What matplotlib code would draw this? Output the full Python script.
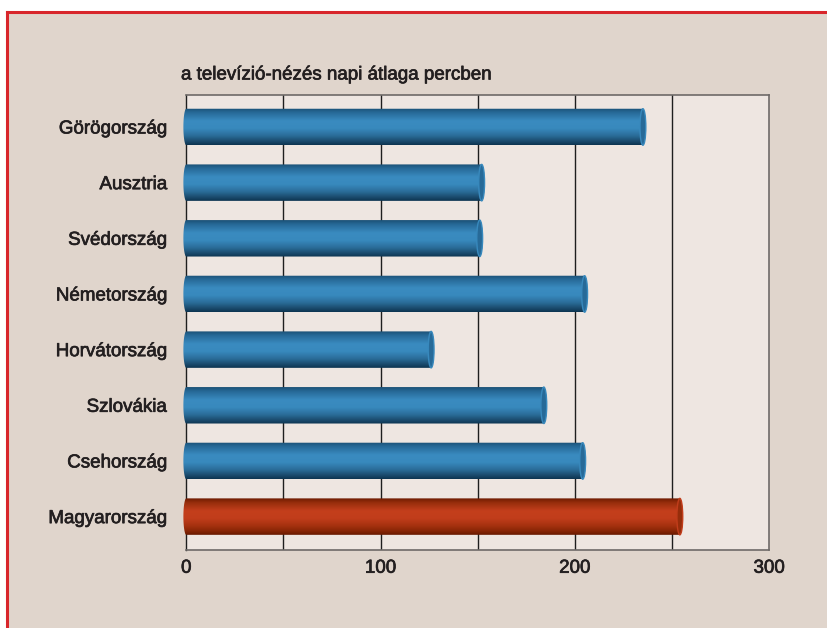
import numpy as np
import matplotlib
matplotlib.use("Agg")
import matplotlib.pyplot as plt
from matplotlib.path import Path
from matplotlib.patches import PathPatch, Ellipse, Rectangle
from matplotlib.colors import LinearSegmentedColormap, to_rgb
from matplotlib.lines import Line2D
import matplotlib.patheffects as pe

plt.rcParams['font.family'] = ['Liberation Sans', 'DejaVu Sans']

countries = ["Görögország", "Ausztria", "Svédország", "Németország",
             "Horvátország", "Szlovákia", "Csehország", "Magyarország"]
minutes = [235, 152, 151, 205, 126, 184, 204, 254]
highlight = "Magyarország"
x_ticks = [0, 100, 200, 300]
grid_x = [50, 100, 150, 200, 250]
title = "a televízió-nézés napi átlaga percben"

W, H = 827, 628
fig = plt.figure(figsize=(W / 100, H / 100), dpi=100, facecolor="white")

bg = Rectangle((7 / W, 0), 1 - 7 / W, (H - 12) / H, transform=fig.transFigure,
               facecolor="#e0d5cc", edgecolor="none", zorder=-10)
fig.patches.append(bg)
fig.lines.append(Line2D([7 / W, 7 / W], [0, (H - 12) / H], transform=fig.transFigure,
                        color="#d8262b", lw=2.2, zorder=-5))
fig.lines.append(Line2D([7 / W, 1], [(H - 12) / H, (H - 12) / H], transform=fig.transFigure,
                        color="#d8262b", lw=2.2, zorder=-5))

ax = fig.add_axes([186.3 / W, 78 / H, (769.2 - 186.3) / W, (550 - 94.7) / H])
ax.set_facecolor("#eee6e1")
n = len(countries)

for gx in grid_x:
    ax.axvline(gx, color="#1e1e1e", lw=1.0, zorder=1)

blue_stops = [(0.0, "#1a5075"), (0.12, "#276a98"), (0.35, "#3a8bc0"), (0.55, "#3889bd"),
              (0.75, "#2a6c98"), (0.9, "#1a4a6c"), (1.0, "#0c3450")]
red_stops = [(0.0, "#6c1b02"), (0.12, "#962d0b"), (0.35, "#c43f1c"), (0.55, "#c13d1b"),
             (0.75, "#a5310f"), (0.9, "#862505"), (1.0, "#661800")]

bar_h = 0.655
cap = 1.5

for i, (c, v) in enumerate(zip(countries, minutes)):
    stops = red_stops if c == highlight else blue_stops
    cmap = LinearSegmentedColormap.from_list("g", stops)
    grad = np.linspace(0, 1, 256).reshape(-1, 1)
    y0, y1 = i - bar_h / 2, i + bar_h / 2
    t = np.linspace(-np.pi / 2, np.pi / 2, 60)
    left = np.column_stack([0 - cap * np.cos(t), i + (bar_h / 2) * np.sin(t)])
    right = np.column_stack([v + cap * np.cos(t[::-1]), i + (bar_h / 2) * np.sin(t[::-1])])
    verts = np.vstack([left, right, left[:1]])
    codes = [Path.MOVETO] + [Path.LINETO] * (len(verts) - 2) + [Path.CLOSEPOLY]
    patch = PathPatch(Path(verts, codes), facecolor="none", edgecolor="none",
                      zorder=3, clip_on=False)
    ax.add_patch(patch)
    im = ax.imshow(grad, cmap=cmap, aspect="auto", origin="upper",
                   extent=(-cap, v + cap, y1, y0), interpolation="bilinear", zorder=3)
    im.set_clip_box(fig.bbox)
    im.set_clip_path(patch)
    ell = Ellipse((v, i), 2 * cap, bar_h, facecolor=to_rgb(stops[1][1]),
                  edgecolor=to_rgb(stops[3][1]), lw=1.0, zorder=4, clip_on=False)
    ax.add_patch(ell)

ax.set_xlim(0, 300)
ax.set_ylim(n - 1 + 0.6, -0.58)
ax.set_yticks(range(n))
ax.set_yticklabels(countries, fontsize=13.5, color="#231f20")
ax.set_xticks(x_ticks)
ax.set_xticklabels([str(x) for x in x_ticks], fontsize=13.5, color="#231f20")
ax.tick_params(axis="y", length=0, pad=14)
ax.tick_params(axis="x", length=0, pad=7)

stroke = [pe.withStroke(linewidth=0.5, foreground="#231f20")]
for lab in ax.get_yticklabels() + ax.get_xticklabels():
    lab.set_path_effects(stroke)

ax.spines["left"].set_color("#1e1e1e")
ax.spines["left"].set_linewidth(1.0)
for s in ["top", "right", "bottom"]:
    ax.spines[s].set_color("#6e6a68")
    ax.spines[s].set_linewidth(1.2)
ax.set_axisbelow(False)

fig.text(181 / W, 1 - 75 / H, title, fontsize=13.5, color="#231f20",
         ha="left", va="center", path_effects=stroke)

fig.savefig("out.png", dpi=100, facecolor=fig.get_facecolor())
